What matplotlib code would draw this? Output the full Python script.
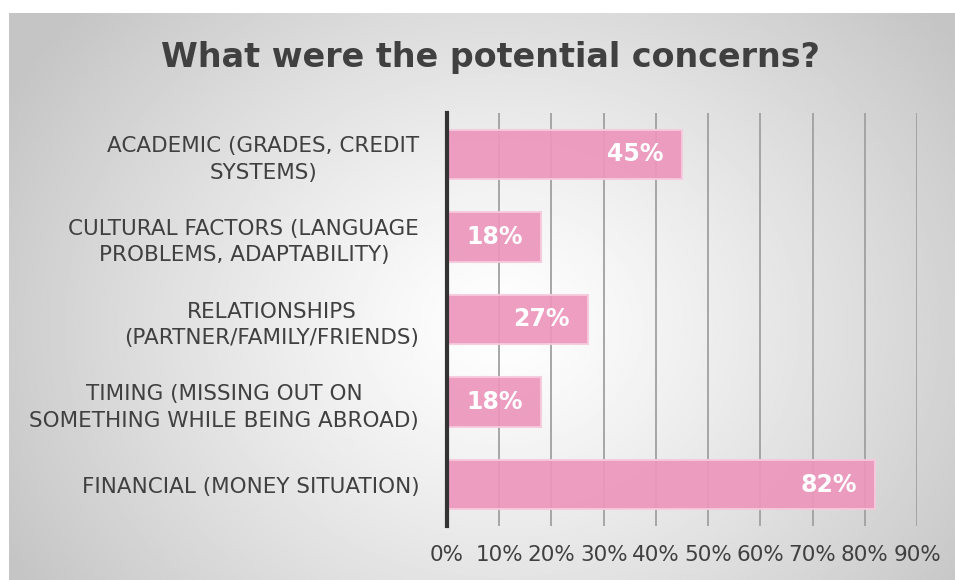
import numpy as np
import matplotlib
matplotlib.use("Agg")
import matplotlib.pyplot as plt

categories = [
    "ACADEMIC (GRADES, CREDIT\nSYSTEMS)",
    "CULTURAL FACTORS (LANGUAGE\nPROBLEMS, ADAPTABILITY)",
    "RELATIONSHIPS\n(PARTNER/FAMILY/FRIENDS)",
    "TIMING (MISSING OUT ON\nSOMETHING WHILE BEING ABROAD)",
    "FINANCIAL (MONEY SITUATION)",
]
values = [0.45, 0.18, 0.27, 0.18, 0.82]
ticks = [0, 0.1, 0.2, 0.3, 0.4, 0.5, 0.6, 0.7, 0.8, 0.9]
tick_labels = ["0%", "10%", "20%", "30%", "40%", "50%", "60%", "70%", "80%", "90%"]

W, H = 955, 580
fig = plt.figure(figsize=(W / 100, H / 100), dpi=100)
fig.patch.set_facecolor("white")

# radial gradient panel behind everything
bg = fig.add_axes([9 / W, 0, 1 - 9 / W, 1 - 13 / H], zorder=0)
ny, nx = 300, 500
yy, xx = np.mgrid[0:ny, 0:nx]
cx, cy = nx * 0.52, ny * 0.55
r = np.sqrt(((xx - cx) / (nx * 0.60)) ** 2 + ((yy - cy) / (ny * 0.85)) ** 2)
r = np.clip(r, 0, 1)
shade = 1.0 - 0.23 * r ** 1.2
bg.imshow(shade, cmap="gray", vmin=0, vmax=1, aspect="auto", extent=[0, 1, 0, 1])
bg.axis("off")

ax = fig.add_axes([447 / W, 1 - 526 / H, (917 - 447) / W, (526 - 113) / H], zorder=1)
ax.patch.set_alpha(0)

y = np.arange(len(categories))
bars = ax.barh(y, values, height=0.6, color="#EC96BC", alpha=0.92,
               edgecolor="#F6CADD", linewidth=1.5, zorder=3)

for b, v in zip(bars, values):
    ax.annotate("{:.0f}%".format(v * 100), xy=(v, b.get_y() + b.get_height() / 2),
                xytext=(-13, 0), textcoords="offset points", ha="right", va="center",
                color="white", fontsize=17, fontweight="bold", zorder=4)

ax.set_xlim(0, 0.9)
ax.set_ylim(len(categories) - 0.5, -0.5)
ax.set_xticks(ticks)
ax.set_xticklabels(tick_labels, fontsize=15.5, color="#404040")
ax.set_yticks(y)
ax.set_yticklabels(categories, fontsize=15.5, color="#404040", ha="right",
                   multialignment="center", linespacing=1.4)
ax.tick_params(axis="y", length=0, pad=20)
ax.tick_params(axis="x", length=0, pad=14)
ax.grid(axis="x", color="#a0a0a0", linewidth=1.3, zorder=1)
ax.set_axisbelow(True)
for s in ["top", "right", "bottom"]:
    ax.spines[s].set_visible(False)
ax.spines["left"].set_color("#333333")
ax.spines["left"].set_linewidth(3)
ax.spines["left"].set_zorder(5)

fig.text(490 / W, 1 - 57 / H, "What were the potential concerns?", ha="center", va="center",
         fontsize=24, fontweight="bold", color="#404040")

fig.savefig("out.png", dpi=100)
